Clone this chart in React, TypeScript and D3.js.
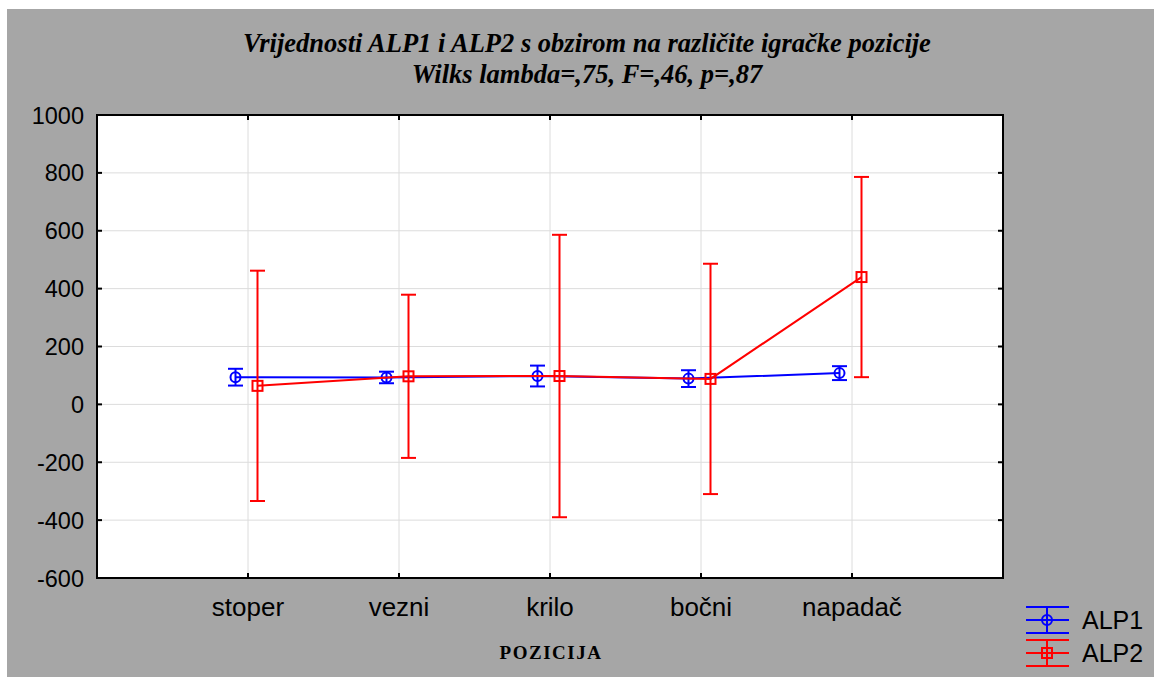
import React from "react";
import * as d3 from "d3";

const categories = ["stoper", "vezni", "krilo", "bočni", "napadač"];
const alp1Mean = [94, 93, 98, 89, 108];
const alp1Err = [29, 20, 36, 29, 24];
const alp2Mean = [64, 97, 98, 88, 440];
const alp2Err = [398, 282, 488, 398, 346];
const yTicks = [-600, -400, -200, 0, 200, 400, 600, 800, 1000];
const titleLines = [
  "Vrijednosti ALP1 i ALP2 s obzirom na različite igračke pozicije",
  "Wilks lambda=,75, F=,46, p=,87",
];
const xTitle = "POZICIJA";
const seriesNames = ["ALP1", "ALP2"];

const W = 1154;
const H = 677;
const plot = { left: 97, right: 1003, top: 115, bottom: 578 };

export default function App() {
  const x = d3.scaleLinear().domain([0, categories.length + 1]).range([plot.left, plot.right]);
  const y = d3.scaleLinear().domain([-600, 1000]).range([plot.bottom, plot.top]);
  const off1 = -12.5;
  const off2 = 9.5;
  const line = d3.line<[number, number]>().x((d) => d[0]).y((d) => d[1]);
  const p1 = alp1Mean.map((v, i) => [x(i + 1) + off1, y(v)] as [number, number]);
  const p2 = alp2Mean.map((v, i) => [x(i + 1) + off2, y(v)] as [number, number]);
  const cap = 7.5;
  const serif = "'Liberation Serif', 'Times New Roman', serif";
  const sans = "'Liberation Sans', Arial, sans-serif";

  return (
    <svg width={W} height={H} style={{ position: "absolute", left: 0, top: 0 }}>
      <rect x={0} y={0} width={W} height={H} fill="#ffffff" />
      <rect x={7} y={9} width={W - 7} height={H - 9} fill="#a6a6a6" />
      {titleLines.map((t, i) => (
        <text
          key={i}
          x={587}
          y={52 + i * 31}
          textAnchor="middle"
          fontFamily={serif}
          fontStyle="italic"
          fontWeight="bold"
          fontSize={26.5}
          fill="#000"
        >
          {t}
        </text>
      ))}
      <rect x={plot.left} y={plot.top} width={plot.right - plot.left} height={plot.bottom - plot.top} fill="#fff" />
      {yTicks.map((t) => (
        <line key={"gy" + t} x1={plot.left} x2={plot.right} y1={y(t)} y2={y(t)} stroke="#dcdcdc" strokeWidth={1} />
      ))}
      {categories.map((c, i) => (
        <line key={"gx" + c} x1={x(i + 1)} x2={x(i + 1)} y1={plot.top} y2={plot.bottom} stroke="#dcdcdc" strokeWidth={1} />
      ))}
      <rect
        x={plot.left}
        y={plot.top}
        width={plot.right - plot.left}
        height={plot.bottom - plot.top}
        fill="none"
        stroke="#000"
        strokeWidth={2}
      />
      {yTicks.map((t) => (
        <g key={"ty" + t}>
          <line x1={plot.left} x2={plot.left + 5} y1={y(t)} y2={y(t)} stroke="#000" strokeWidth={2} />
          <line x1={plot.right} x2={plot.right - 5} y1={y(t)} y2={y(t)} stroke="#000" strokeWidth={2} />
          <text x={84} y={y(t) + 8.5} textAnchor="end" fontFamily={sans} fontSize={23.5} fill="#000">
            {t}
          </text>
        </g>
      ))}
      {categories.map((c, i) => (
        <g key={"tx" + c}>
          <line x1={x(i + 1)} x2={x(i + 1)} y1={plot.bottom} y2={plot.bottom - 5} stroke="#000" strokeWidth={2} />
          <line x1={x(i + 1)} x2={x(i + 1)} y1={plot.top} y2={plot.top + 5} stroke="#000" strokeWidth={2} />
          <text x={x(i + 1)} y={616} textAnchor="middle" fontFamily={sans} fontSize={26} fill="#000">
            {c}
          </text>
        </g>
      ))}
      <text
        x={551}
        y={659}
        textAnchor="middle"
        fontFamily={serif}
        fontWeight="bold"
        fontSize={19}
        letterSpacing={1.5}
        fill="#000"
      >
        {xTitle}
      </text>
      <path d={line(p1) || ""} fill="none" stroke="#0000ff" strokeWidth={2} />
      {alp1Mean.map((v, i) => {
        const cx = x(i + 1) + off1;
        return (
          <g key={"a1" + i} stroke="#0000ff" strokeWidth={2} fill="none">
            <line x1={cx} x2={cx} y1={y(v + alp1Err[i])} y2={y(v - alp1Err[i])} />
            <line x1={cx - cap} x2={cx + cap} y1={y(v + alp1Err[i])} y2={y(v + alp1Err[i])} />
            <line x1={cx - cap} x2={cx + cap} y1={y(v - alp1Err[i])} y2={y(v - alp1Err[i])} />
            <circle cx={cx} cy={y(v)} r={5} />
          </g>
        );
      })}
      <path d={line(p2) || ""} fill="none" stroke="#ff0000" strokeWidth={2} />
      {alp2Mean.map((v, i) => {
        const cx = x(i + 1) + off2;
        return (
          <g key={"a2" + i} stroke="#ff0000" strokeWidth={2} fill="none">
            <line x1={cx} x2={cx} y1={y(v + alp2Err[i])} y2={y(v - alp2Err[i])} />
            <line x1={cx - cap} x2={cx + cap} y1={y(v + alp2Err[i])} y2={y(v + alp2Err[i])} />
            <line x1={cx - cap} x2={cx + cap} y1={y(v - alp2Err[i])} y2={y(v - alp2Err[i])} />
            <rect x={cx - 5} y={y(v) - 5} width={10} height={10} />
          </g>
        );
      })}
      {seriesNames.map((s, i) => {
        const color = i === 0 ? "#0000ff" : "#ff0000";
        const cy = 620 + i * 33;
        return (
          <g key={"lg" + s}>
            <g stroke={color} strokeWidth={2} fill="none">
              <line x1={1026} x2={1069} y1={cy - 13} y2={cy - 13} />
              <line x1={1026} x2={1069} y1={cy} y2={cy} />
              <line x1={1026} x2={1069} y1={cy + 13} y2={cy + 13} />
              <line x1={1047} x2={1047} y1={cy - 13} y2={cy + 13} />
              {i === 0 ? (
                <circle cx={1047} cy={cy} r={5} />
              ) : (
                <rect x={1042} y={cy - 5} width={10} height={10} />
              )}
            </g>
            <text x={1082} y={cy + 9} fontFamily={sans} fontSize={25} fill="#000">
              {s}
            </text>
          </g>
        );
      })}
    </svg>
  );
}
